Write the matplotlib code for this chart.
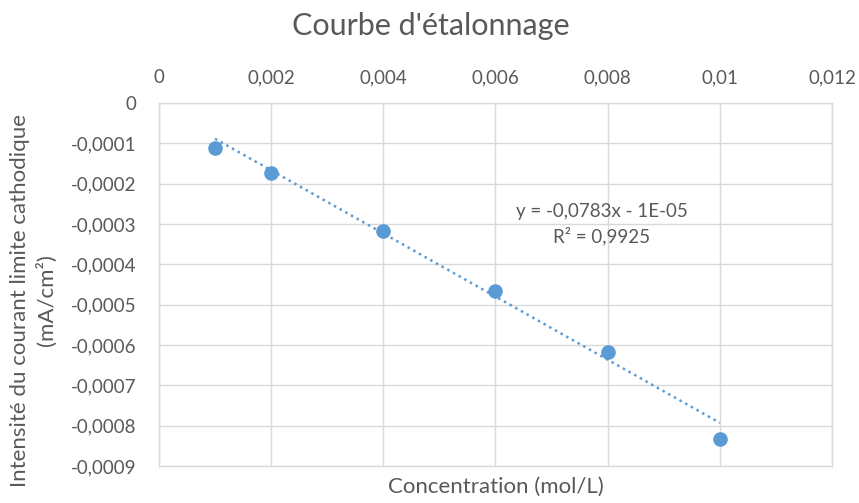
import numpy as np
import matplotlib
matplotlib.use('Agg')
import matplotlib.pyplot as plt
from matplotlib.ticker import FuncFormatter

# data
concentration = [0.001, 0.002, 0.004, 0.006, 0.008, 0.010]
intensity = [-0.000112, -0.000174, -0.000316, -0.000466, -0.000618, -0.000834]

# trendline as displayed
slope = -0.0783
intercept = -1e-05
r2 = 0.9925

x_ticks = [0, 0.002, 0.004, 0.006, 0.008, 0.010, 0.012]
y_ticks = [0, -0.0001, -0.0002, -0.0003, -0.0004, -0.0005, -0.0006, -0.0007, -0.0008, -0.0009]

blue = '#5b9bd5'
grey_txt = '#595959'
grid_col = '#d9d9d9'

plt.rcParams['font.family'] = ['Lato', 'DejaVu Sans']

fig = plt.figure(figsize=(8.59, 5.03), dpi=100)
ax = fig.add_axes([0.185, 0.0736, 0.7836, 0.7214])


def fr_fmt(v, pos):
    if abs(v) < 1e-12:
        return '0'
    s = ('%.4f' % v).rstrip('0').rstrip('.')
    return s.replace('.', ',')


xs = np.array([concentration[0], concentration[-1]])
ax.plot(xs, slope * xs + intercept, linestyle=(0, (1, 1.6)), color=blue, lw=1.8, zorder=3)
ax.plot(concentration, intensity, 'o', color=blue, markersize=9.5, zorder=4)

ax.set_xlim(0, 0.012)
ax.set_ylim(-0.0009, 0)
ax.set_xticks(x_ticks)
ax.set_yticks(y_ticks)
ax.xaxis.set_major_formatter(FuncFormatter(fr_fmt))
ax.yaxis.set_major_formatter(FuncFormatter(fr_fmt))
ax.xaxis.tick_top()
ax.tick_params(length=0, labelsize=13.5, colors=grey_txt)
ax.tick_params(axis='x', pad=12)
ax.tick_params(axis='y', pad=16)
ax.grid(True, color=grid_col, lw=1)
ax.set_axisbelow(True)
for sp in ax.spines.values():
    sp.set_color(grid_col)
    sp.set_linewidth(1)

ax.set_xlabel('Concentration (mol/L)', fontsize=16, color=grey_txt)
ax.xaxis.set_label_coords(0.5, -0.03)
ax.set_ylabel('Intensité du courant limite cathodique\n(mA/cm²)', fontsize=16,
              color=grey_txt, linespacing=1.3)
ax.yaxis.set_label_coords(-0.152, 0.457)

ax.text(0.0079, -0.0003, 'y = -0,0783x - 1E-05\nR² = 0,9925', ha='center', va='center',
        fontsize=13.5, color=grey_txt, linespacing=1.4)

fig.text(0.502, 0.948, "Courbe d'étalonnage", ha='center', va='center',
         fontsize=22, color=grey_txt)

fig.savefig('out.png', dpi=100, facecolor='white')
